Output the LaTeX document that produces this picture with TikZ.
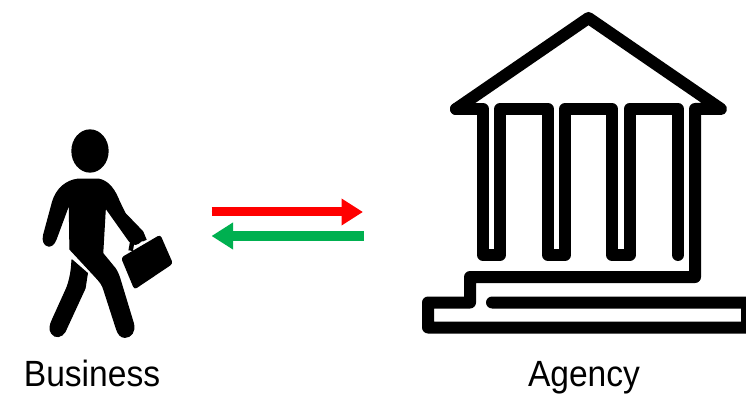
\documentclass[tikz,border=0pt]{standalone}
\usepackage{fontspec}
\setmainfont{Liberation Sans}
\usetikzlibrary{arrows.meta}
\definecolor{arrowred}{HTML}{FF0000}
\definecolor{arrowgreen}{HTML}{00B050}
\tikzset{
  building/.style={draw=black,line width=12pt,line join=round,line cap=round},
  flow/.style={line width=9pt,-{Triangle[length=21.5pt,width=25.5pt]}},
  caption/.style={anchor=base,inner sep=0pt,xscale=0.92,font=\fontsize{36.5pt}{40pt}\selectfont},
  figure/.style={fill=black,draw=black,line width=1.2pt,line join=round}
}
\begin{document}
\begin{tikzpicture}[x=1pt,y=-1pt]
\useasboundingbox (0,0) rectangle (746,395);
% building
\draw[building] (456,109) -- (588.5,18) -- (721,109) -- (695,109) -- (695,277) -- (470,277) -- (470,302.5) -- (428,302.5) -- (428,327.5) -- (747,327.5) -- (747,302.5) -- (492,302.5);
\draw[building] (456,109) -- (483,109) -- (483,255) -- (500,255) -- (500,109) -- (548,109) -- (548,255) -- (565,255) -- (565,109) -- (612,109) -- (612,255) -- (629.5,255) -- (629.5,109) -- (678,109) -- (678,255);
% person
\begin{scope}[shift={(20,120)},x=0.3333pt,y=-0.3333pt]
\fill[fill=black] (210,93) ellipse [x radius=56,y radius=65];
\path[figure] (172,178) -- (238,178)
  .. controls (268,185) and (285,212) .. (298,245)
  -- (315,280) -- (368,335)
  .. controls (378,347) and (368,362) .. (355,370)
  .. controls (345,376) and (334,372) .. (327,362)
  -- (256,262)
  -- (248,400) -- (285,445)
  .. controls (292,455) and (296,465) .. (300,478)
  -- (340,610)
  .. controls (347,635) and (332,652) .. (315,652)
  .. controls (302,652) and (295,642) .. (290,628)
  -- (252,510)
  .. controls (248,495) and (240,485) .. (228,472)
  -- (150,388) -- (148,250)
  -- (108,358)
  .. controls (102,375) and (92,379) .. (85,378)
  .. controls (72,375) and (67,362) .. (71,345)
  -- (98,245)
  .. controls (110,205) and (140,182) .. (172,178) -- cycle;
\path[figure] (156,420) -- (202,460) -- (195,505) -- (135,635)
  .. controls (125,652) and (105,655) .. (95,640)
  .. controls (87,628) and (90,615) .. (97,600)
  -- (140,505)
  .. controls (150,480) and (155,450) .. (156,420) -- cycle;
\draw[black,line width=4.5pt,line join=round] (332,392) -- (336,370) -- (368,348) -- (374,362);
\fill[fill=black,rounded corners=3pt] (303,413) -- (421,344) -- (459,431) -- (343,509) -- cycle;
\end{scope}
% arrows
\coordinate (redstart) at (211.5,212);
\coordinate (redend) at (363,212);
\coordinate (greenstart) at (363.5,236);
\coordinate (greenend) at (211.5,236);
\draw[flow,arrowred,draw=arrowred,fill=arrowred] (redstart) -- (redend);
\draw[flow,arrowgreen,draw=arrowgreen,fill=arrowgreen] (greenstart) -- (greenend);
% labels
\node[caption] (business) at (92,386) {Business};
\node[caption] (agency) at (584,386) {Agency};
\end{tikzpicture}
\end{document}
